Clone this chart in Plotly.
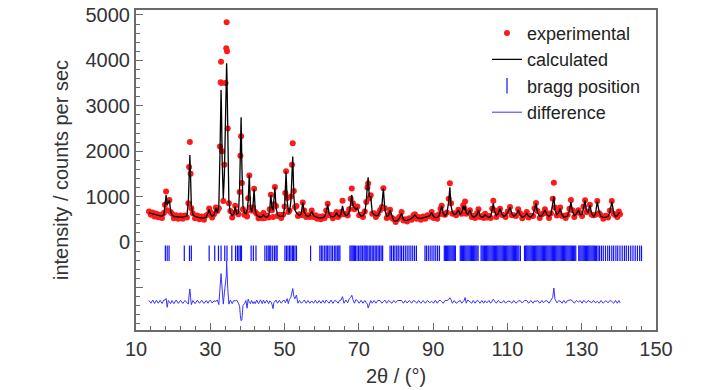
import plotly.graph_objects as go

# ---- data ----
two_theta = [
    13.5, 14.0, 14.5, 15.0, 15.5, 16.0, 16.5, 17.0, 17.5, 17.8,
    18.1, 18.4, 18.7, 19.0, 19.3, 19.7, 20.2, 20.8, 21.4, 22.0,
    22.6, 23.2, 23.7, 24.1, 24.3, 24.5, 24.7, 24.9, 25.3, 25.9,
    26.5, 27.1, 27.7, 28.3, 28.9, 29.4, 29.7, 30.0, 30.5, 31.0,
    31.5, 31.9, 32.3, 32.6, 32.8, 32.9, 33.0, 33.2, 33.5, 33.8,
    34.1, 34.3, 34.4, 34.5, 34.7, 35.0, 35.4, 35.9, 36.3, 36.7,
    37.1, 37.6, 37.9, 38.1, 38.3, 38.5, 38.8, 39.2, 39.6, 39.9,
    40.2, 40.5, 40.8, 41.1, 41.5, 41.8, 42.1, 42.5, 43.0, 43.5,
    44.0, 44.3, 44.7, 45.2, 45.7, 46.0, 46.3, 46.6, 46.9, 47.1,
    47.4, 47.7, 48.1, 48.6, 49.1, 49.6, 50.0, 50.2, 50.4, 50.7,
    51.0, 51.3, 51.7, 52.0, 52.2, 52.5, 52.8, 53.2, 53.6, 54.0,
    54.5, 54.9, 55.3, 55.8, 56.3, 56.8, 57.3, 57.8, 58.3, 58.8,
    59.3, 59.8, 60.3, 60.8, 61.2, 61.6, 62.0, 62.5, 63.0, 63.5,
    64.0, 64.4, 64.8, 65.2, 65.6, 66.0, 66.5, 67.0, 67.4, 67.8,
    68.1, 68.4, 68.8, 69.2, 69.6, 70.1, 70.6, 71.1, 71.6, 72.0,
    72.3, 72.5, 72.8, 73.2, 73.6, 74.1, 74.6, 75.1, 75.7, 76.2,
    76.6, 77.0, 77.5, 78.0, 78.4, 78.9, 79.4, 79.9, 80.4, 80.9,
    81.5, 82.0, 82.5, 83.0, 83.6, 84.2, 84.7, 85.1, 85.6, 86.1,
    86.7, 87.3, 87.9, 88.5, 89.1, 89.6, 90.1, 90.6, 91.1, 91.6,
    92.0, 92.3, 92.7, 93.2, 93.7, 94.2, 94.5, 94.8, 95.2, 95.7,
    96.2, 96.8, 97.3, 97.7, 98.1, 98.4, 98.6, 98.9, 99.3, 99.9,
    100.4, 100.8, 101.3, 101.8, 102.2, 102.6, 103.1, 103.6, 104.0, 104.5,
    105.0, 105.5, 105.9, 106.2, 106.5, 107.0, 107.5, 108.0, 108.5, 109.0,
    109.5, 110.1, 110.7, 111.2, 111.7, 112.3, 112.9, 113.4, 114.0, 114.6,
    115.2, 115.7, 116.3, 116.9, 117.3, 117.7, 118.1, 118.7, 119.3, 119.7,
    120.1, 120.6, 121.2, 121.7, 122.2, 122.5, 122.8, 123.3, 123.8, 124.2,
    124.7, 125.2, 125.7, 126.2, 126.7, 127.1, 127.5, 128.0, 128.6, 129.1,
    129.6, 130.1, 130.5, 130.9, 131.3, 131.7, 132.2, 132.7, 133.2, 133.7,
    134.2, 134.7, 135.2, 135.8, 136.5, 137.1, 137.6, 138.1, 138.6, 139.1,
    139.6, 140.0, 140.3,
]

intensity_calc = [
    640, 630, 610, 595, 585, 575, 565, 565, 600, 780,
    1035, 820, 880, 920, 700, 590, 560, 550, 545, 545,
    545, 550, 570, 900, 1500, 1915, 1400, 800, 600, 560,
    545, 530, 525, 525, 550, 640, 720, 620, 565, 590,
    750, 640, 800, 1900, 3000, 3350, 3000, 1800, 950, 1500,
    3000, 3700, 3935, 3600, 2200, 900, 640, 580, 610, 780,
    620, 640, 1200, 2200, 2745, 1700, 800, 640, 620, 700,
    900, 1475, 800, 660, 800, 1165, 700, 580, 560, 545,
    560, 600, 560, 545, 580, 700, 1035, 750, 700, 850,
    1205, 750, 600, 565, 560, 570, 750, 1100, 1550, 900,
    700, 640, 900, 1500, 1880, 1000, 700, 640, 600, 580,
    620, 865, 650, 580, 560, 580, 670, 580, 555, 540,
    530, 530, 535, 560, 650, 835, 620, 560, 555, 570,
    645, 580, 560, 620, 795, 640, 580, 600, 650, 850,
    1035, 800, 750, 720, 750, 620, 565, 580, 640, 900,
    1250, 1425, 1000, 1000, 650, 600, 580, 580, 670, 800,
    1180, 700, 560, 580, 705, 560, 470, 460, 470, 520,
    630, 500, 470, 475, 490, 520, 560, 595, 540, 520,
    520, 530, 540, 560, 580, 645, 560, 535, 540, 580,
    700, 795, 640, 570, 620, 900, 1205, 800, 650, 600,
    620, 705, 600, 650, 795, 700, 795, 650, 600, 705,
    580, 545, 560, 600, 705, 580, 540, 560, 595, 560,
    540, 560, 700, 850, 680, 580, 620, 740, 620, 560,
    580, 650, 765, 620, 560, 600, 705, 600, 545, 560,
    630, 570, 545, 600, 720, 850, 650, 560, 580, 650,
    705, 600, 560, 600, 850, 1000, 700, 600, 650, 740,
    600, 545, 560, 570, 700, 880, 680, 580, 620, 705,
    600, 600, 750, 910, 680, 640, 815, 620, 560, 620,
    890, 660, 560, 540, 545, 560, 660, 890, 650, 560,
    580, 640, 630,
]

intensity_obs = [
    670, 600, 650, 560, 620, 545, 600, 530, 640, 820,
    1110, 700, 910, 925, 660, 620, 520, 590, 510, 580,
    510, 580, 540, 850, 1650, 2200, 1500, 740, 630, 520,
    580, 500, 560, 490, 580, 610, 735, 660, 540, 610,
    760, 680, 740, 2100, 3520, 3970, 3500, 2000, 900, 1700,
    3500, 4270, 4840, 4200, 2500, 850, 680, 540, 640, 800,
    660, 610, 1100, 1900, 2330, 1300, 720, 600, 650, 560,
    960, 1465, 760, 690, 760, 1170, 660, 620, 520, 590,
    520, 640, 530, 580, 540, 720, 1040, 700, 550, 830,
    1210, 790, 570, 600, 530, 600, 780, 1080, 1560, 970,
    660, 690, 1000, 1700, 2175, 1120, 770, 790, 570, 610,
    590, 870, 690, 550, 590, 550, 690, 550, 590, 510,
    560, 500, 565, 530, 690, 840, 590, 600, 520, 600,
    660, 550, 590, 660, 910, 610, 620, 580, 720, 950,
    1180, 850, 720, 770, 780, 590, 600, 550, 670, 880,
    1200, 1290, 960, 1030, 620, 630, 550, 610, 700, 770,
    1185, 740, 530, 610, 710, 530, 500, 440, 500, 550,
    660, 470, 500, 450, 520, 490, 590, 610, 510, 550,
    490, 560, 510, 590, 560, 660, 530, 570, 510, 610,
    730, 800, 610, 600, 650, 950, 1295, 850, 620, 630,
    590, 710, 630, 620, 810, 740, 890, 620, 640, 700,
    550, 575, 530, 630, 720, 550, 570, 530, 620, 540,
    570, 530, 730, 910, 700, 550, 650, 730, 600, 590,
    550, 670, 770, 590, 590, 570, 720, 630, 520, 590,
    660, 540, 575, 570, 740, 860, 680, 530, 610, 630,
    720, 630, 530, 630, 950, 1305, 760, 580, 670, 760,
    570, 575, 530, 600, 730, 925, 700, 550, 650, 700,
    630, 570, 780, 920, 660, 670, 820, 600, 590, 600,
    900, 630, 590, 510, 575, 540, 690, 900, 620, 590,
    550, 670, 610,
]

bragg_positions = [
    17.9, 18.4, 18.9, 23.0, 24.4, 24.9, 29.7, 31.2, 32.2, 32.9,
    33.9, 34.5, 35.8, 36.8, 37.3, 37.7, 38.1, 38.4, 41.0, 41.6,
    42.3, 44.7, 45.2, 45.6, 46.0, 46.3, 46.8, 47.3, 47.7, 48.0,
    50.1, 50.5, 50.9, 51.3, 51.7, 52.1, 52.4, 52.8, 53.2, 57.0,
    59.5, 59.9, 60.3, 60.8, 61.2, 61.6, 62.0, 62.5, 62.9, 63.4,
    63.8, 64.2, 64.6, 64.9, 67.6, 67.9, 68.2, 68.5, 68.8, 69.1,
    69.5, 69.9, 70.3, 70.6, 71.0, 71.4, 71.7, 72.0, 72.4, 72.8,
    73.2, 73.6, 74.0, 74.4, 74.8, 75.2, 75.6, 76.0, 76.4, 78.4,
    78.8, 79.3, 79.7, 80.2, 80.6, 81.1, 81.5, 82.0, 82.5, 83.0,
    83.5, 84.0, 84.5, 85.0, 85.5, 87.8, 88.2, 88.7, 89.2, 89.7,
    90.2, 90.7, 91.2, 91.7, 93.0, 93.3, 93.6, 93.9, 94.2, 94.5,
    94.8, 95.1, 95.4, 95.7, 96.0, 97.3, 97.6, 97.9, 98.2, 98.5,
    98.8, 99.1, 99.4, 99.7, 100.0, 100.3, 100.6, 100.9, 101.2, 101.5,
    101.8, 102.1, 102.9, 103.2, 103.5, 103.8, 104.1, 104.4, 104.7, 105.0,
    105.3, 105.6, 105.9, 106.2, 106.5, 106.8, 107.1, 107.4, 107.7, 108.0,
    108.3, 108.6, 108.9, 109.2, 109.5, 109.8, 110.1, 110.4, 110.7, 111.0,
    111.3, 111.6, 111.9, 112.2, 112.5, 112.8, 113.1, 113.5, 114.6, 114.9,
    115.2, 115.5, 115.8, 116.1, 116.4, 116.7, 117.0, 117.3, 117.6, 117.9,
    118.2, 118.5, 118.8, 119.1, 119.4, 119.7, 120.0, 120.3, 120.6, 120.9,
    121.2, 121.5, 121.8, 122.1, 122.4, 122.7, 123.0, 123.3, 123.6, 123.9,
    124.2, 124.5, 124.8, 125.1, 125.4, 125.7, 126.0, 126.3, 126.6, 126.9,
    127.2, 127.5, 127.8, 128.1, 128.4, 129.2, 129.5, 129.8, 130.1, 130.4,
    130.7, 131.0, 131.3, 131.6, 131.9, 132.2, 132.5, 132.8, 133.1, 133.4,
    133.7, 134.0, 134.4, 134.8, 135.3, 135.8, 136.4, 137.0, 137.5, 138.1,
    138.6, 139.2, 139.7, 140.3, 140.9, 141.5, 142.0, 142.6, 143.2, 143.8,
    144.4, 145.0, 145.6, 146.1,
]

x_ticks = [10, 30, 50, 70, 90, 110, 130, 150]
y_ticks = [-1000, 0, 1000, 2000, 3000, 4000, 5000]
y_tick_labels = ["", "0", "1000", "2000", "3000", "4000", "5000"]

bragg_level = -250
diff_offset = -1320

assert len(two_theta) == len(intensity_calc) == len(intensity_obs)

difference = [o - c + diff_offset for o, c in zip(intensity_obs, intensity_calc)]

FONT = "Liberation Sans, Arial, sans-serif"
TXT = "#333333"
FRAME = "#6a6a6a"

fig = go.Figure()
fig.add_trace(go.Scatter(
    x=two_theta, y=intensity_obs, mode="markers", name="experimental",
    marker=dict(color="#ff1a1a", size=6, line=dict(width=0)),
))
fig.add_trace(go.Scatter(
    x=two_theta, y=intensity_calc, mode="lines", name="calculated",
    line=dict(color="black", width=1.3),
))
fig.add_trace(go.Scatter(
    x=bragg_positions, y=[bragg_level] * len(bragg_positions), mode="markers",
    name="bragg position",
    marker=dict(symbol="line-ns", size=11, color="#0000ff",
                line=dict(color="#1010ff", width=1.2)),
))
fig.add_trace(go.Scatter(
    x=two_theta, y=difference, mode="lines", name="difference",
    line=dict(color="#3535ff", width=1),
))

fig.update_layout(
    width=728, height=390,
    margin=dict(l=136, r=72, t=10, b=60),
    plot_bgcolor="white", paper_bgcolor="white",
    font=dict(family=FONT, color=TXT, size=20),
    showlegend=True,
    legend=dict(
        x=0.675, y=0.985, xanchor="left", yanchor="top",
        bgcolor="rgba(255,255,255,0.85)", borderwidth=0,
        font=dict(family=FONT, size=18, color="#222222"),
        tracegroupgap=0, itemwidth=30,
    ),
    xaxis=dict(
        range=[10, 150], tickmode="array", tickvals=x_ticks,
        ticks="inside", ticklen=7, tickwidth=1, tickcolor=FRAME,
        minor=dict(ticks="inside", tickmode="linear", tick0=10, dtick=4,
                   ticklen=4, tickcolor=FRAME, showgrid=False),
        showline=True, mirror=True, linecolor=FRAME, linewidth=2,
        showgrid=False, zeroline=False, automargin=False,
        ticklabeloverflow="allow",
        tickfont=dict(size=20, color=TXT),
        title=dict(text="2θ / (°)", font=dict(size=20, color=TXT), standoff=10),
    ),
    yaxis=dict(
        range=[-1940, 5110], tickmode="array", tickvals=y_ticks,
        ticktext=y_tick_labels,
        ticks="inside", ticklen=7, tickwidth=1, tickcolor=FRAME,
        minor=dict(ticks="inside", tickmode="linear", tick0=0, dtick=200,
                   ticklen=4, tickcolor=FRAME, showgrid=False),
        showline=True, mirror=True, linecolor=FRAME, linewidth=2,
        showgrid=False, zeroline=False, automargin=False,
        ticklabeloverflow="allow",
        tickfont=dict(size=20, color=TXT),
        title=dict(text="intensity / counts per sec",
                   font=dict(size=20, color=TXT), standoff=12),
    ),
)

# remove the browser's default 8 px body margin so the figure sits at (0, 0)
fig.write_html("out.html", config={"displayModeBar": False},
               post_script="document.body.style.margin='0';")
